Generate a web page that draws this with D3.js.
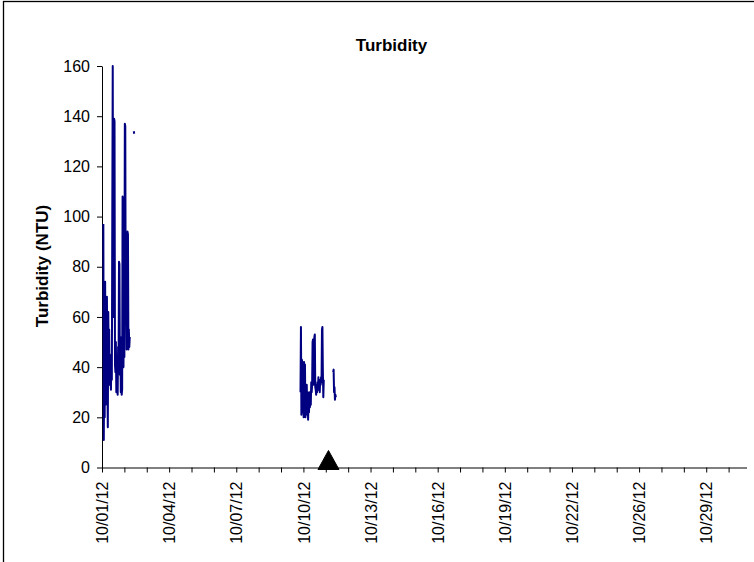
<!DOCTYPE html>
<html><head><meta charset="utf-8">
<script src="https://cdn.jsdelivr.net/npm/d3@7"></script>
<style>
body{margin:0;background:#fff}
svg{display:block}
text{font-family:"Liberation Sans",Arial,sans-serif;fill:#000}
</style>
</head><body>
<svg id="c" width="754" height="562"></svg>
<script>
// ---------- data ----------
const chartTitle = "Turbidity";
const yTitle = "Turbidity (NTU)";
const axisStart = "2012-10-01T00:00Z";
const axisEnd = "2012-10-31T00:00Z";
const majorUnitDays = 3.125;
const tickLabels = ["10/01/12","10/04/12","10/07/12","10/10/12","10/13/12","10/16/12","10/19/12","10/22/12","10/26/12","10/29/12"];
const yTicks = [0,20,40,60,80,100,120,140,160];
const stepMinutes = 30;

const burst1Start = "2012-10-01T01:30Z";
const burst1Values = [97,11,45,20,74,25,50,30,68,35,16,62,40,55,33,44,36,31,45,35,
  100,160,60,100,139,138,41,38,50,30,42,35,29,48,40,82,81,37,52,30,
  34,29,31,108,106,40,75,44,137,136,60,75,47,52,94,93,47,55,48,52,
  null,null,null,null,null,null,null,null,134,133];

const burst2Start = "2012-10-10T05:45Z";
const burst2Values = [30,56,21,43,42,22,40,20,42,24,41,20,28,22,33,21,30,19,26,22,
  30,24,28,25,34,30,33,50,51,33,35,52,53,32,31,29,33,30,34,31,
  36,32,34,30,35,33,36,34,55,56,38,28,35,
  null,null,null,null,null,null,null,null,null,null,null,null,null,null,null,null,null,null,null,null,
  38,39,30,32,27,29,28];

const eventTimes = ["2012-10-11T13:00Z"];
const eventValues = [3];

// ---------- build ----------
const DAY = 86400000;
function series(start, vals){
  const t0 = new Date(start).getTime();
  return vals.map((v,i)=>({t:new Date(t0 + i*stepMinutes*60000), v:v}));
}
const pts1 = series(burst1Start, burst1Values);
const pts2 = series(burst2Start, burst2Values);

const svg = d3.select("#c");
const x = d3.scaleUtc().domain([new Date(axisStart), new Date(axisEnd)]).range([102, 746.5]);
const y = d3.scaleLinear().domain([0,160]).range([467.5, 66]);

// frame
svg.append("rect").attr("x",3.5).attr("y",1.5).attr("width",800).attr("height",700)
  .attr("fill","none").attr("stroke","#000").attr("stroke-width",1.3);

// title
svg.append("text").attr("x",391.5).attr("y",51).attr("text-anchor","middle")
  .style("font-weight","bold").style("font-size","17px").text(chartTitle);

// y title
svg.append("text").attr("transform","translate(48,266) rotate(-90)").attr("text-anchor","middle")
  .style("font-weight","bold").style("font-size","17px").text(yTitle);

// x axis
const t0 = new Date(axisStart).getTime(), tEnd = new Date(axisEnd).getTime();
const minorDates = [];
for(let k=0; t0 + k*majorUnitDays/3*DAY <= tEnd + 1; k++) minorDates.push(new Date(t0 + k*majorUnitDays/3*DAY));
const xAxis = d3.axisBottom(x).tickValues(minorDates)
  .tickFormat((d,i)=> i%3===0 && tickLabels[i/3] ? tickLabels[i/3] : "")
  .tickSize(5).tickSizeOuter(0).tickPadding(3);
const gx = svg.append("g").attr("transform","translate(0,467.5)").call(xAxis);
gx.select(".domain").attr("stroke","#000");
gx.selectAll(".tick line").attr("stroke","#000");
gx.selectAll(".tick text")
  .style("font-size","16px")
  .attr("transform","rotate(-90)")
  .attr("text-anchor","end")
  .attr("dy","0.35em")
  .attr("x",-14).attr("y",0);

// y axis
const yAxis = d3.axisLeft(y).tickValues(yTicks).tickSize(5).tickSizeOuter(0).tickPadding(7);
const gy = svg.append("g").attr("transform","translate(102,0)").call(yAxis);
gy.select(".domain").attr("stroke","#000");
gy.selectAll(".tick line").attr("stroke","#000");
gy.selectAll(".tick text").style("font-size","16px");

// lines
const line = d3.line().defined(d=>d.v!=null).x(d=>x(d.t)).y(d=>y(d.v));
[pts1, pts2].forEach(p=>{
  svg.append("path").datum(p).attr("d",line).attr("fill","none")
    .attr("stroke","#000080").attr("stroke-width",2).attr("stroke-linejoin","round");
});

// event marker (triangle)
eventTimes.forEach((tt,i)=>{
  const cx = x(new Date(tt)), cy = y(eventValues[i]);
  svg.append("path").attr("d",`M${cx},${cy-9.5}L${cx+10.5},${cy+9.5}L${cx-10.5},${cy+9.5}Z`)
    .attr("fill","#000").attr("stroke","#000").attr("stroke-width",1);
});
</script>
</body></html>
